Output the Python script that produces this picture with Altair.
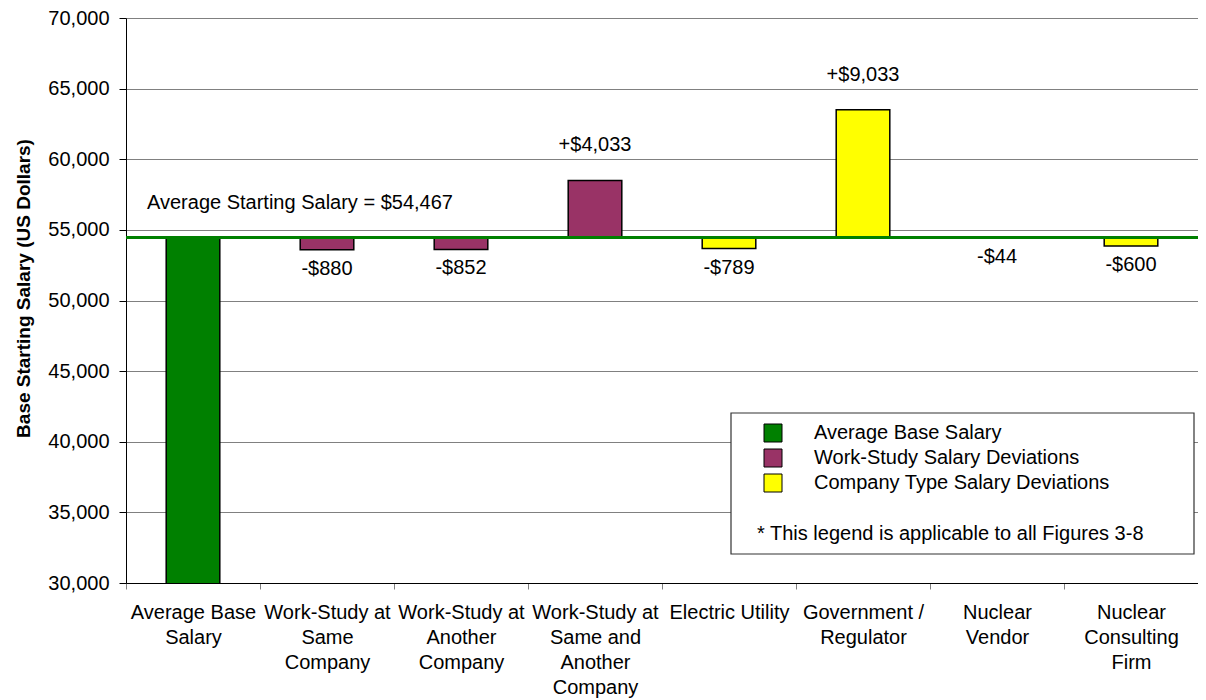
import altair as alt
import pandas as pd

categories = [
    "Average Base|Salary",
    "Work-Study at|Same|Company",
    "Work-Study at|Another|Company",
    "Work-Study at|Same and|Another|Company",
    "Electric Utility",
    "Government /|Regulator",
    "Nuclear|Vendor",
    "Nuclear|Consulting|Firm",
]
average_salary = 54467
deviations = [0, -880, -852, 4033, -789, 9033, -44, -600]
groups = [
    "Average Base Salary",
    "Work-Study Salary Deviations",
    "Work-Study Salary Deviations",
    "Work-Study Salary Deviations",
    "Company Type Salary Deviations",
    "Company Type Salary Deviations",
    "Company Type Salary Deviations",
    "Company Type Salary Deviations",
]
group_order = [
    "Average Base Salary",
    "Work-Study Salary Deviations",
    "Company Type Salary Deviations",
]
group_colors = ["#008000", "#993366", "#FFFF00"]

FONT = "Liberation Sans"
FS = 20

values = [average_salary + d for d in deviations]
starts = [0] + [average_salary] * (len(categories) - 1)


def fmt(d):
    sign = "+" if d > 0 else "-"
    return f"{sign}${abs(d):,}"


labels = ["" if i == 0 else fmt(d) for i, d in enumerate(deviations)]

df = pd.DataFrame({
    "category": categories,
    "value": values,
    "start": starts,
    "dev": deviations,
    "group": groups,
    "label": labels,
})

x_scale = alt.Scale(paddingInner=0, paddingOuter=0)
x_enc = alt.X(
    "category:N",
    sort=categories,
    scale=x_scale,
    axis=alt.Axis(
        title=None,
        labelAngle=0,
        labelExpr="split(datum.label, '|')",
        labelLineHeight=25,
        labelFontSize=FS,
        labelFont=FONT,
        labelColor="black",
        labelPadding=13,
        labelLimit=300,
        tickBand="extent",
        tickSize=6,
        tickColor="#808080",
        domainColor="black",
        grid=False,
    ),
)

y_scale = alt.Scale(domain=[30000, 70000], zero=False, nice=False)
y_enc = alt.Y(
    "value:Q",
    scale=y_scale,
    axis=alt.Axis(
        title="Base Starting Salary (US Dollars)",
        titleFont=FONT,
        titleFontSize=19,
        titleFontWeight="bold",
        titleColor="black",
        titleAngle=-90,
        titleX=-103,
        titleY=270,
        titleAlign="center",
        titleBaseline="middle",
        values=list(range(30000, 70001, 5000)),
        format=",.0f",
        labelFontSize=FS,
        labelFont=FONT,
        labelColor="black",
        labelPadding=10,
        tickSize=7,
        tickColor="black",
        domainColor="black",
        grid=True,
        gridColor="#808080",
        gridWidth=1,
    ),
)

bars = alt.Chart(df).mark_bar(
    stroke="black", strokeWidth=1.5, clip=True, width=alt.RelativeBandSize(0.4)
).encode(
    x=x_enc,
    y=y_enc,
    y2="start:Q",
    color=alt.Color(
        "group:N",
        scale=alt.Scale(domain=group_order, range=group_colors),
        legend=alt.Legend(
            title="* This legend is applicable to all Figures 3-8",
            orient="none",
            legendX=631,
            legendY=405,
            titleOrient="bottom",
            titleAnchor="start",
            titleFont=FONT,
            titleFontSize=FS,
            titleFontWeight="normal",
            titleColor="black",
            titleLimit=600,
            titlePadding=30,
            labelFont=FONT,
            labelFontSize=FS,
            labelColor="black",
            labelLimit=600,
            labelOffset=31,
            symbolType="square",
            symbolSize=324,
            symbolStrokeColor="black",
            symbolStrokeWidth=1,
            symbolOpacity=1,
            symbolOffset=6,
            rowPadding=3,
            padding=0,
        ),
    ),
)

pos_labels = alt.Chart(df).transform_filter("datum.dev > 0").mark_text(
    font=FONT, fontSize=FS, color="black", baseline="middle", dy=-35
).encode(
    x=alt.X("category:N", sort=categories, scale=x_scale),
    y=alt.Y("value:Q", scale=y_scale),
    text="label:N",
)

neg_labels = alt.Chart(df).transform_filter("datum.dev < 0").mark_text(
    font=FONT, fontSize=FS, color="black", baseline="middle", dy=19
).encode(
    x=alt.X("category:N", sort=categories, scale=x_scale),
    y=alt.Y("value:Q", scale=y_scale),
    text="label:N",
)

avg_df = pd.DataFrame({"avg": [average_salary],
                       "text": [f"Average Starting Salary = ${average_salary:,}"]})

avg_rule = alt.Chart(avg_df).mark_rule(color="#008000", strokeWidth=3).encode(
    y=alt.Y("avg:Q", scale=y_scale)
)

avg_text = alt.Chart(avg_df).mark_text(
    font=FONT, fontSize=FS, color="black", align="left", baseline="middle", dy=-34
).encode(
    x=alt.value(21),
    y=alt.Y("avg:Q", scale=y_scale),
    text="text:N",
)

legend_box = alt.Chart(avg_df).mark_rect(
    fill="white", stroke="#333333", strokeWidth=1.2
).encode(
    x=alt.value(605), x2=alt.value(1068), y=alt.value(395), y2=alt.value(536)
)

chart = alt.layer(bars, avg_rule, pos_labels, neg_labels, avg_text, legend_box).properties(
    width=1072,
    height=565,
    autosize=alt.AutoSizeParams(type="none"),
    padding={"left": 118, "top": 10, "right": 0, "bottom": 116},
    background="white",
).configure_view(stroke=None)

chart.save("out.html", embed_options={"renderer": "svg", "actions": False})
